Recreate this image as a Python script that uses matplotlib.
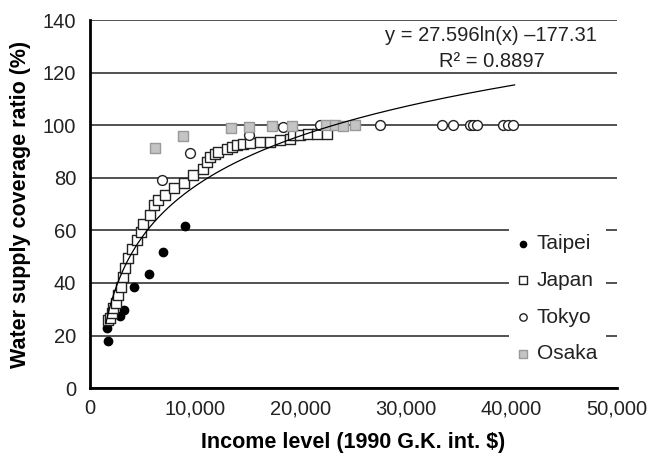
import numpy as np
import matplotlib
matplotlib.use('Agg')
import matplotlib.pyplot as plt
from matplotlib.patches import Rectangle
from matplotlib.ticker import StrMethodFormatter

plt.rcParams['font.family'] = ['Liberation Sans', 'DejaVu Sans']

# Taipei (filled black circles)
taipei_x = [1580, 1740, 2850, 3260, 4140, 5630, 6930, 9010]
taipei_y = [22.9, 18.0, 27.5, 29.6, 38.4, 43.3, 51.6, 61.7]

# Japan (open squares)
japan_x = [1700, 1900, 2060, 2210, 2470, 2690, 2940, 3160, 3320, 3570, 3950,
           4430, 4840, 5060, 5690, 6070, 6480, 7120, 8000, 8920, 9800, 10750,
           11070, 11390, 11860, 12170, 12970, 13440, 13920, 14550, 15180,
           16130, 17080, 18030, 18980, 19290, 19920, 20710, 21500, 22450]
japan_y = [25.8, 26.5, 28.4, 30.3, 32.4, 35.4, 38.5, 42.3, 45.5, 49.3, 53.1,
           56.3, 59.4, 62.4, 65.8, 69.6, 71.7, 73.6, 76.2, 78.2, 81.0, 83.5,
           86.0, 87.9, 89.2, 89.8, 91.1, 91.7, 92.4, 93.0, 93.3,
           93.6, 93.6, 94.3, 94.9, 96.2, 96.2, 96.8, 96.8, 96.8]

# Tokyo (open circles)
tokyo_x = [6800, 9490, 15090, 18280, 21820, 27510, 33370, 34470, 36050,
           36370, 36690, 39210, 39690, 40160]
tokyo_y = [79.3, 89.6, 96.4, 99.4, 99.9, 100, 100, 100, 100,
           100, 100, 100, 100, 100]

# Osaka (grey squares)
osaka_x = [6170, 8850, 13350, 15110, 17300, 19190, 22360, 23250, 24030, 25140]
osaka_y = [91.5, 95.8, 98.9, 99.4, 99.6, 99.6, 99.9, 99.9, 99.7, 99.9]

# logarithmic trend line coefficients (from the chart)
trend_a = 27.596
trend_b = -177.31
trend_range = (1500, 40300)

fig = plt.figure(figsize=(6.52, 4.55), dpi=100)
ax = fig.add_axes([0.138, 0.147, 0.808, 0.809])

ax.scatter(taipei_x, taipei_y, s=36, marker='o', color='black', zorder=3, label='Taipei')
ax.scatter(japan_x, japan_y, s=60, marker='s', facecolor='white', edgecolor='#222222',
           linewidth=1.0, zorder=3, label='Japan')
ax.scatter(tokyo_x, tokyo_y, s=50, marker='o', facecolor='white', edgecolor='#222222',
           linewidth=1.0, zorder=4, label='Tokyo')
ax.scatter(osaka_x, osaka_y, s=55, marker='s', facecolor='#c4c4c4', edgecolor='#999999',
           linewidth=1.0, zorder=4, label='Osaka')

tx = np.linspace(trend_range[0], trend_range[1], 400)
ax.plot(tx, trend_a * np.log(tx) + trend_b, color='black', linewidth=0.9, zorder=5)

ax.set_xlim(0, 50000)
ax.set_ylim(0, 140)
ax.set_xticks(np.arange(0, 50001, 10000))
ax.set_yticks(np.arange(0, 141, 20))
ax.xaxis.set_major_formatter(StrMethodFormatter('{x:,.0f}'))
ax.tick_params(length=0, labelsize=14.5, colors='#222222', pad=8)
ax.tick_params(axis='y', pad=10)

ax.yaxis.grid(True, color='#333333', linewidth=1.2, zorder=0)
ax.set_axisbelow(True)
for side in ['top', 'right']:
    ax.spines[side].set_visible(False)
for side in ['left', 'bottom']:
    ax.spines[side].set_linewidth(2)
    ax.spines[side].set_color('black')

ax.set_xlabel('Income level (1990 G.K. int. $)', fontsize=15.5, fontweight='bold', labelpad=10)
ax.set_ylabel('Water supply coverage ratio (%)', fontsize=15.5, fontweight='bold', labelpad=8)

# trend line equation
ax.text(0.761, 0.959, 'y = 27.596ln(x) \u2013177.31', transform=ax.transAxes,
        ha='center', va='center', fontsize=14.5, color='#222222')
ax.text(0.763, 0.886, 'R\u00b2 = 0.8897', transform=ax.transAxes,
        ha='center', va='center', fontsize=14.5, color='#222222')

# white box behind the legend hides the gridlines there
ax.add_patch(Rectangle((0.795, 0.05), 0.184, 0.41, transform=ax.transAxes,
                       facecolor='white', edgecolor='none', zorder=1))
leg = ax.legend(loc='upper left', bbox_to_anchor=(0.805, 0.418), frameon=False, fontsize=15,
                markerscale=0.75, handletextpad=0.2, handlelength=0.9, labelspacing=0.85,
                borderpad=0, borderaxespad=0)
for t in leg.get_texts():
    t.set_color('#222222')

fig.savefig('out.png', dpi=100)
